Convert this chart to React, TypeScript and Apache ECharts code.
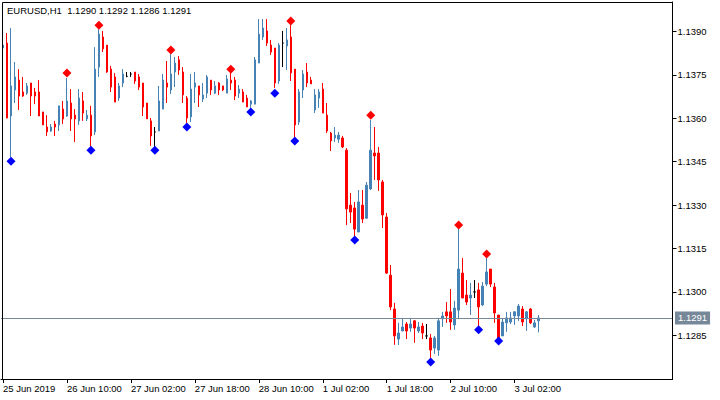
import React, { useEffect, useRef } from "react";
import * as echarts from "echarts";

const symbolName = "EURUSD,H1";
const tickLabels = ["25 Jun 2019", "26 Jun 10:00", "27 Jun 02:00", "27 Jun 18:00", "28 Jun 10:00", "1 Jul 02:00", "1 Jul 18:00", "2 Jul 10:00", "3 Jul 02:00"];
const barsPerTick = 16;
const slotCount = 168;
const priceTicks = [1.1285, 1.13, 1.1315, 1.133, 1.1345, 1.136, 1.1375, 1.139];

const open = [
  1.13843, 1.1386, 1.13608, 1.13698, 1.13732, 1.13691, 1.13687, 1.13722, 1.13691, 1.13691,
  1.13622, 1.1357, 1.13556, 1.1358, 1.13577, 1.13632, 1.13608, 1.13653, 1.13611, 1.13591,
  1.1366, 1.13598, 1.13611, 1.13553, 1.13777, 1.13881, 1.13853, 1.1377, 1.13743, 1.1367,
  1.13722, 1.13745, 1.13753, 1.1376, 1.13743, 1.13722, 1.13653, 1.13591, 1.13553, 1.13556,
  1.13632, 1.13722, 1.13698, 1.1376, 1.13802, 1.1376, 1.1367, 1.13605, 1.13708, 1.13712,
  1.13667, 1.13687, 1.13732, 1.13687, 1.13722, 1.13712, 1.13687, 1.13732, 1.13732, 1.13687,
  1.13691, 1.1367, 1.13649, 1.13649, 1.13791, 1.13881, 1.13902, 1.13853, 1.13843, 1.13729,
  1.1386, 1.1385, 1.13881, 1.1377, 1.13587, 1.13698, 1.1376, 1.13732, 1.13629, 1.1367,
  1.13701, 1.13611, 1.13549, 1.13532, 1.13528, 1.13532, 1.1349, 1.133, 1.1329, 1.13207,
  1.133, 1.13255, 1.13356, 1.1348, 1.1348, 1.1338, 1.13259, 1.13058, 1.12941, 1.12837,
  1.12865, 1.12889, 1.12875, 1.129, 1.12865, 1.12882, 1.12848, 1.12841, 1.12806, 1.12799,
  1.12907, 1.12931, 1.12931, 1.12886, 1.12937, 1.13065, 1.12989, 1.12979, 1.13, 1.13007,
  1.12955, 1.13027, 1.13079, 1.13017, 1.1292, 1.12848, 1.12893, 1.12896, 1.12917, 1.12917,
  1.12941, 1.12907, 1.12941, 1.12879, 1.129,
];
const high = [
  1.13857, 1.13895, 1.13912, 1.13795, 1.1377, 1.13743, 1.13722, 1.13722, 1.13705, 1.13732,
  1.13622, 1.13611, 1.1358, 1.13591, 1.13643, 1.1366, 1.13739, 1.13701, 1.13632, 1.13701,
  1.13691, 1.13629, 1.13643, 1.13846, 1.13909, 1.13902, 1.13853, 1.13781, 1.13757, 1.13722,
  1.1377, 1.1376, 1.1376, 1.1376, 1.13753, 1.13722, 1.13653, 1.13601, 1.1357, 1.13712,
  1.13753, 1.13798, 1.13822, 1.13812, 1.13815, 1.13777, 1.13677, 1.13753, 1.1376, 1.13712,
  1.13722, 1.1375, 1.13732, 1.13729, 1.13725, 1.13712, 1.1375, 1.13764, 1.13743, 1.13715,
  1.13701, 1.13681, 1.13663, 1.13812, 1.13943, 1.13943, 1.13943, 1.13871, 1.13843, 1.1386,
  1.13902, 1.13912, 1.13922, 1.1377, 1.13701, 1.13767, 1.13791, 1.13743, 1.13701, 1.13701,
  1.13722, 1.13653, 1.13553, 1.1357, 1.13553, 1.13539, 1.13497, 1.13342, 1.13311, 1.13352,
  1.13352, 1.1338, 1.13594, 1.1357, 1.13501, 1.13387, 1.13273, 1.13093, 1.12962, 1.12893,
  1.12907, 1.12896, 1.12907, 1.12903, 1.12896, 1.12893, 1.12889, 1.12855, 1.12848, 1.1291,
  1.12931, 1.12965, 1.1301, 1.12969, 1.13221, 1.13117, 1.13041, 1.13031, 1.13041, 1.13031,
  1.13034, 1.13117, 1.13079, 1.13031, 1.1292, 1.1291, 1.12931, 1.12931, 1.12934, 1.12958,
  1.12951, 1.12934, 1.12944, 1.12903, 1.1292,
];
const low = [
  1.1384, 1.136, 1.13466, 1.13653, 1.13629, 1.13674, 1.13681, 1.13608, 1.13649, 1.13608,
  1.13577, 1.13539, 1.13553, 1.13539, 1.13556, 1.1358, 1.13605, 1.13556, 1.13518, 1.13577,
  1.13591, 1.13591, 1.13501, 1.13542, 1.13743, 1.13829, 1.13757, 1.13691, 1.13656, 1.1366,
  1.13708, 1.13742, 1.13743, 1.13719, 1.13698, 1.13608, 1.13598, 1.13505, 1.13501, 1.13556,
  1.13632, 1.13653, 1.13684, 1.13708, 1.1375, 1.13653, 1.13584, 1.13587, 1.13653, 1.13639,
  1.13656, 1.1367, 1.13681, 1.13684, 1.13681, 1.13694, 1.13687, 1.13698, 1.13663, 1.1367,
  1.13656, 1.13639, 1.13636, 1.13649, 1.13791, 1.13871, 1.1385, 1.13819, 1.13705, 1.13719,
  1.13777, 1.13767, 1.13729, 1.13535, 1.13577, 1.1367, 1.13708, 1.13719, 1.13618, 1.13636,
  1.13618, 1.13549, 1.13487, 1.13518, 1.13515, 1.13497, 1.13231, 1.13238, 1.13193, 1.13207,
  1.13238, 1.13252, 1.13352, 1.13387, 1.13349, 1.13221, 1.13062, 1.12937, 1.12817, 1.12817,
  1.12865, 1.12837, 1.12862, 1.12824, 1.12858, 1.12837, 1.12837, 1.12772, 1.12786, 1.12779,
  1.12879, 1.12893, 1.12869, 1.12869, 1.1291, 1.12979, 1.12955, 1.1292, 1.12979, 1.12882,
  1.12951, 1.1302, 1.13017, 1.12893, 1.12841, 1.12848, 1.12862, 1.12889, 1.12886, 1.129,
  1.12882, 1.12865, 1.12889, 1.12875, 1.1286,
];
const close = [
  1.13853, 1.13601, 1.13712, 1.13743, 1.13677, 1.13677, 1.13712, 1.13677, 1.13677, 1.13608,
  1.13577, 1.13553, 1.1357, 1.1357, 1.13643, 1.13598, 1.1366, 1.13598, 1.13598, 1.1367,
  1.13618, 1.13611, 1.13539, 1.1377, 1.13891, 1.1384, 1.1376, 1.13708, 1.13656, 1.13712,
  1.13753, 1.13745, 1.13753, 1.13729, 1.13708, 1.13639, 1.13598, 1.13539, 1.13553, 1.1366,
  1.13732, 1.13708, 1.13753, 1.13791, 1.13767, 1.13681, 1.13601, 1.13701, 1.13722, 1.13681,
  1.13681, 1.13743, 1.13698, 1.13712, 1.13698, 1.13698, 1.13736, 1.13722, 1.13677, 1.13701,
  1.13656, 1.13639, 1.1366, 1.13802, 1.13891, 1.13912, 1.1386, 1.13829, 1.13722, 1.13853,
  1.1386, 1.13871, 1.13757, 1.13577, 1.13691, 1.13753, 1.13722, 1.13719, 1.13681, 1.13691,
  1.13618, 1.13556, 1.13522, 1.13542, 1.13542, 1.13501, 1.13287, 1.13276, 1.13217, 1.13311,
  1.13252, 1.13369, 1.1349, 1.1347, 1.13387, 1.13266, 1.13065, 1.12948, 1.12848, 1.12858,
  1.12879, 1.12865, 1.12889, 1.12875, 1.12879, 1.12858, 1.12848, 1.12799, 1.12841, 1.129,
  1.12917, 1.12917, 1.12896, 1.12944, 1.13079, 1.12979, 1.12965, 1.12989, 1.13, 1.12948,
  1.1302, 1.13069, 1.13027, 1.12927, 1.12841, 1.12896, 1.1291, 1.1291, 1.12931, 1.12951,
  1.12896, 1.12931, 1.12893, 1.12893, 1.1291,
];

const upFractalIdx = [16, 24, 42, 57, 72, 92, 114, 121];
const upFractalPrice = [1.13757, 1.13922, 1.13836, 1.1377, 1.13936, 1.13611, 1.13231, 1.13131];
const downFractalIdx = [2, 22, 38, 46, 62, 68, 73, 88, 107, 119, 124];
const downFractalPrice = [1.13452, 1.1349, 1.1349, 1.1357, 1.13622, 1.13687, 1.13522, 1.13179, 1.12758, 1.12869, 1.1283];

export default function App() {
  const ref = useRef<HTMLDivElement>(null);
  useEffect(() => {
    const chart = echarts.init(ref.current as HTMLDivElement, null, { renderer: "svg" });
    const last = close.length - 1;
    const categories = Array.from({ length: slotCount }, (_, i) => String(i));
    const candleData = open.map((o, i) => {
      const item: any = { value: [o, close[i], low[i], high[i]] };
      if (o === close[i]) {
        item.itemStyle = { color: "#000", color0: "#000", borderColor: "#000", borderColor0: "#000", borderColorDoji: "#000" };
      }
      return item;
    });
    const showTick = (i: number) => i % barsPerTick === 0 && i / barsPerTick < tickLabels.length;
    const font = "'Liberation Sans', Arial, sans-serif";
    const title = `${symbolName}  ${open[last].toFixed(4)} ${high[last].toFixed(4)} ${low[last].toFixed(4)} ${close[last].toFixed(4)}`;
    chart.setOption({
      animation: false,
      backgroundColor: "#ffffff",
      title: {
        text: title,
        left: 7,
        top: 5,
        padding: 0,
        textStyle: { fontFamily: font, fontSize: 9.5, fontWeight: "normal", color: "#000" },
      },
      grid: { left: 0.5, top: 2, width: 672, height: 377 },
      xAxis: {
        type: "category",
        data: categories,
        boundaryGap: true,
        axisLine: { show: true, lineStyle: { color: "#000", width: 1 } },
        axisTick: { show: true, alignWithLabel: true, interval: (i: number) => showTick(i), length: 4, lineStyle: { color: "#000" } },
        axisLabel: {
          interval: (i: number) => showTick(i),
          formatter: (_v: string, i: number) => (showTick(i) ? tickLabels[i / barsPerTick] : ""),
          align: "left",
          margin: 4,
          color: "#000",
          fontFamily: font,
          fontSize: 9.5,
        },
        splitLine: { show: false },
      },
      yAxis: {
        type: "value",
        position: "right",
        min: 1.12699,
        max: 1.14002,
        axisLine: { show: true, lineStyle: { color: "#000" } },
        axisTick: { show: true, customValues: priceTicks, length: 4, lineStyle: { color: "#000" } },
        axisLabel: {
          customValues: priceTicks,
          formatter: (v: number) => v.toFixed(4),
          margin: 5,
          color: "#000",
          fontFamily: font,
          fontSize: 9.5,
        },
        splitLine: { show: false },
      },
      graphic: [
        {
          type: "rect",
          shape: { x: 2.5, y: 2.5, width: 670, height: 377 },
          style: { fill: "none", stroke: "#000", lineWidth: 1 },
          z: 100,
          silent: true,
        },
      ],
      series: [
        {
          type: "candlestick",
          data: candleData,
          barWidth: 2,
          itemStyle: { color: "#4682B4", color0: "#FF0000", borderColor: "#4682B4", borderColor0: "#FF0000", borderWidth: 1 },
          markLine: {
            silent: true,
            precision: 5,
            symbol: ["none", "none"],
            data: [{ yAxis: close[last] }],
            lineStyle: { color: "#778899", width: 1, type: "solid" },
            label: {
              show: true,
              position: "end",
              distance: 2.5,
              formatter: close[last].toFixed(4),
              backgroundColor: "#778899",
              color: "#fff",
              padding: [2, 3, 1, 3],
              fontFamily: font,
              fontSize: 9.5,
            },
            emphasis: { disabled: true },
          },
        },
        {
          type: "scatter",
          data: upFractalIdx.map((x, k) => [x, upFractalPrice[k]]),
          symbol: "diamond",
          symbolSize: 9,
          itemStyle: { color: "#FF0000", opacity: 1 },
          silent: true,
          z: 4,
        },
        {
          type: "scatter",
          data: downFractalIdx.map((x, k) => [x, downFractalPrice[k]]),
          symbol: "diamond",
          symbolSize: 9,
          itemStyle: { color: "#0000FF", opacity: 1 },
          silent: true,
          z: 4,
        },
      ],
    });
    return () => chart.dispose();
  }, []);
  return <div ref={ref} style={{ position: "fixed", left: 0, top: 0, width: 720, height: 400 }} />;
}
